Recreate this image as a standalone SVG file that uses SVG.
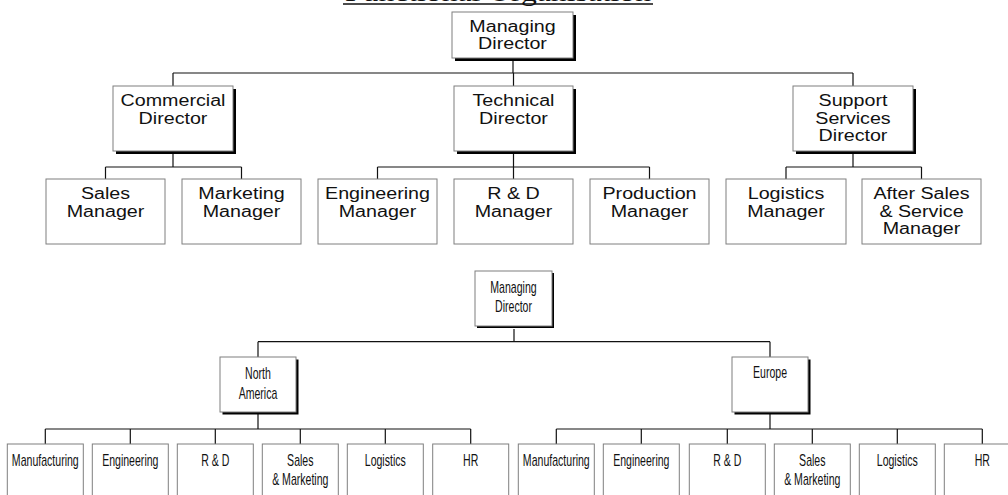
<svg xmlns="http://www.w3.org/2000/svg" width="1008" height="495" viewBox="0 0 1008 495">
  <style>
    .box { fill: #ffffff; stroke: #7f7f7f; stroke-width: 1; }
    .shadow { fill: #000000; }
    .link { fill: none; stroke: #111111; stroke-width: 1.2; }
    .t1 { font-family: "Liberation Sans", Arial, sans-serif; font-size: 16px; fill: #111111; text-anchor: middle; }
    .t2 { font-family: "Liberation Sans", Arial, sans-serif; font-size: 16px; fill: #111111; text-anchor: middle; }
    .title { font-family: "Liberation Serif", "Times New Roman", serif; font-size: 25px; fill: #111111; text-anchor: middle; }
  </style>
  <rect x="0" y="0" width="1008" height="495" fill="#ffffff"/>

  <!-- heading, mostly above the top edge -->
  <g id="heading">
    <text class="title" x="498" y="1" textLength="306" lengthAdjust="spacingAndGlyphs">Functional Organisation</text>
    <line x1="343" y1="4" x2="653" y2="4" stroke="#111111" stroke-width="1.6"/>
  </g>

  <!-- connectors -->
  <g id="connectors" class="link">
    <!-- functional chart -->
    <path d="M513,61 V73 M173,73 H853 M173,73 V86 M513.5,73 V86 M853,73 V86"/>
    <path d="M173,154 V167 M105.5,167 H241.5 M105.5,167 V179 M241.5,167 V179"/>
    <path d="M513.5,154 V167 M377.5,167 H649.5 M377.5,167 V179 M513.5,167 V179 M649.5,167 V179"/>
    <path d="M853,154 V167 M786,167 H921.5 M786,167 V179 M921.5,167 V179"/>
    <!-- regional chart -->
    <path d="M514,329 V341.7 M258,341.7 H770 M258,341.7 V357 M770,341.7 V357"/>
    <path d="M258,414 V429 M45.3,429 H470.7 M45.3,429 V444 M130.3,429 V444 M215.3,429 V444 M300.3,429 V444 M385.3,429 V444 M470.7,429 V444"/>
    <path d="M770,414 V429 M556.3,429 H982.3 M556.3,429 V444 M641.3,429 V444 M727.3,429 V444 M812.3,429 V444 M897.3,429 V444 M982.3,429 V444"/>
  </g>

  <!-- functional chart: directors -->
  <g id="md-top">
    <rect class="shadow" x="455" y="15" width="121" height="46"/>
    <rect class="box" x="452" y="12" width="121" height="46"/>
    <text class="t1" transform="translate(512.5 0) scale(1.23 1)"><tspan x="0" y="31.7">Managing</tspan><tspan x="0" y="49">Director</tspan></text>
  </g>
  <g id="commercial-director">
    <rect class="shadow" x="116" y="89" width="120" height="65"/>
    <rect class="box" x="113" y="86" width="120" height="65"/>
    <text class="t1" transform="translate(173 0) scale(1.23 1)"><tspan x="0" y="106">Commercial</tspan><tspan x="0" y="123.7">Director</tspan></text>
  </g>
  <g id="technical-director">
    <rect class="shadow" x="457" y="89" width="119" height="65"/>
    <rect class="box" x="454" y="86" width="119" height="65"/>
    <text class="t1" transform="translate(513.5 0) scale(1.23 1)"><tspan x="0" y="106">Technical</tspan><tspan x="0" y="123.7">Director</tspan></text>
  </g>
  <g id="support-director">
    <rect class="shadow" x="796" y="89" width="120" height="65"/>
    <rect class="box" x="793" y="86" width="120" height="65"/>
    <text class="t1" transform="translate(853 0) scale(1.23 1)"><tspan x="0" y="106">Support</tspan><tspan x="0" y="123.7">Services</tspan><tspan x="0" y="141.4">Director</tspan></text>
  </g>

  <!-- functional chart: managers -->
  <g id="sales-manager">
    <rect class="box" x="46" y="179" width="119" height="65"/>
    <text class="t1" transform="translate(105.5 0) scale(1.23 1)"><tspan x="0" y="199">Sales</tspan><tspan x="0" y="216.7">Manager</tspan></text>
  </g>
  <g id="marketing-manager">
    <rect class="box" x="182" y="179" width="119" height="65"/>
    <text class="t1" transform="translate(241.5 0) scale(1.23 1)"><tspan x="0" y="199">Marketing</tspan><tspan x="0" y="216.7">Manager</tspan></text>
  </g>
  <g id="engineering-manager">
    <rect class="box" x="318" y="179" width="119" height="65"/>
    <text class="t1" transform="translate(377.5 0) scale(1.23 1)"><tspan x="0" y="199">Engineering</tspan><tspan x="0" y="216.7">Manager</tspan></text>
  </g>
  <g id="rd-manager">
    <rect class="box" x="454" y="179" width="119" height="65"/>
    <text class="t1" transform="translate(513.5 0) scale(1.23 1)"><tspan x="0" y="199">R &amp; D</tspan><tspan x="0" y="216.7">Manager</tspan></text>
  </g>
  <g id="production-manager">
    <rect class="box" x="590" y="179" width="119" height="65"/>
    <text class="t1" transform="translate(649.5 0) scale(1.23 1)"><tspan x="0" y="199">Production</tspan><tspan x="0" y="216.7">Manager</tspan></text>
  </g>
  <g id="logistics-manager">
    <rect class="box" x="726" y="179" width="120" height="65"/>
    <text class="t1" transform="translate(786 0) scale(1.23 1)"><tspan x="0" y="199">Logistics</tspan><tspan x="0" y="216.7">Manager</tspan></text>
  </g>
  <g id="after-sales-manager">
    <rect class="box" x="862" y="179" width="119" height="65"/>
    <text class="t1" transform="translate(921.5 0) scale(1.23 1)"><tspan x="0" y="199">After Sales</tspan><tspan x="0" y="216.7">&amp; Service</tspan><tspan x="0" y="234.4">Manager</tspan></text>
  </g>

  <!-- regional chart: head and regions -->
  <g id="md-bottom">
    <rect class="shadow" x="477" y="273" width="77" height="55"/>
    <rect class="box" x="475" y="271" width="77" height="55"/>
    <text class="t2" transform="translate(513.5 0) scale(0.66 1)"><tspan x="0" y="293.3">Managing</tspan><tspan x="0" y="312.3">Director</tspan></text>
  </g>
  <g id="north-america">
    <rect class="shadow" x="222.5" y="359.5" width="76" height="55"/>
    <rect class="box" x="220" y="357" width="76" height="55"/>
    <text class="t2" transform="translate(258 0) scale(0.66 1)"><tspan x="0" y="379.3">North</tspan><tspan x="0" y="399.3">America</tspan></text>
  </g>
  <g id="europe">
    <rect class="shadow" x="734.5" y="359.5" width="76" height="55"/>
    <rect class="box" x="732" y="357" width="76" height="55"/>
    <text class="t2" transform="translate(770 0) scale(0.66 1)"><tspan x="0" y="378.5">Europe</tspan></text>
  </g>

  <!-- regional chart: North America departments -->
  <g id="na-manufacturing">
    <rect class="box" x="7.3" y="444" width="76" height="62"/>
    <text class="t2" transform="translate(45.3 0) scale(0.66 1)"><tspan x="0" y="466.5">Manufacturing</tspan></text>
  </g>
  <g id="na-engineering">
    <rect class="box" x="92.3" y="444" width="76" height="62"/>
    <text class="t2" transform="translate(130.3 0) scale(0.66 1)"><tspan x="0" y="466.5">Engineering</tspan></text>
  </g>
  <g id="na-rd">
    <rect class="box" x="177.3" y="444" width="76" height="62"/>
    <text class="t2" transform="translate(215.3 0) scale(0.66 1)"><tspan x="0" y="466.5">R &amp; D</tspan></text>
  </g>
  <g id="na-sales-marketing">
    <rect class="box" x="262.3" y="444" width="76" height="62"/>
    <text class="t2" transform="translate(300.3 0) scale(0.66 1)"><tspan x="0" y="466.5">Sales</tspan><tspan x="0" y="485.5">&amp; Marketing</tspan></text>
  </g>
  <g id="na-logistics">
    <rect class="box" x="347.3" y="444" width="76" height="62"/>
    <text class="t2" transform="translate(385.3 0) scale(0.66 1)"><tspan x="0" y="466.5">Logistics</tspan></text>
  </g>
  <g id="na-hr">
    <rect class="box" x="432.7" y="444" width="76" height="62"/>
    <text class="t2" transform="translate(470.7 0) scale(0.66 1)"><tspan x="0" y="466.5">HR</tspan></text>
  </g>

  <!-- regional chart: Europe departments -->
  <g id="eu-manufacturing">
    <rect class="box" x="518.3" y="444" width="76" height="62"/>
    <text class="t2" transform="translate(556.3 0) scale(0.66 1)"><tspan x="0" y="466.5">Manufacturing</tspan></text>
  </g>
  <g id="eu-engineering">
    <rect class="box" x="603.3" y="444" width="76" height="62"/>
    <text class="t2" transform="translate(641.3 0) scale(0.66 1)"><tspan x="0" y="466.5">Engineering</tspan></text>
  </g>
  <g id="eu-rd">
    <rect class="box" x="689.3" y="444" width="76" height="62"/>
    <text class="t2" transform="translate(727.3 0) scale(0.66 1)"><tspan x="0" y="466.5">R &amp; D</tspan></text>
  </g>
  <g id="eu-sales-marketing">
    <rect class="box" x="774.3" y="444" width="76" height="62"/>
    <text class="t2" transform="translate(812.3 0) scale(0.66 1)"><tspan x="0" y="466.5">Sales</tspan><tspan x="0" y="485.5">&amp; Marketing</tspan></text>
  </g>
  <g id="eu-logistics">
    <rect class="box" x="859.3" y="444" width="76" height="62"/>
    <text class="t2" transform="translate(897.3 0) scale(0.66 1)"><tspan x="0" y="466.5">Logistics</tspan></text>
  </g>
  <g id="eu-hr">
    <rect class="box" x="944.3" y="444" width="76" height="62"/>
    <text class="t2" transform="translate(982.3 0) scale(0.66 1)"><tspan x="0" y="466.5">HR</tspan></text>
  </g>
</svg>
